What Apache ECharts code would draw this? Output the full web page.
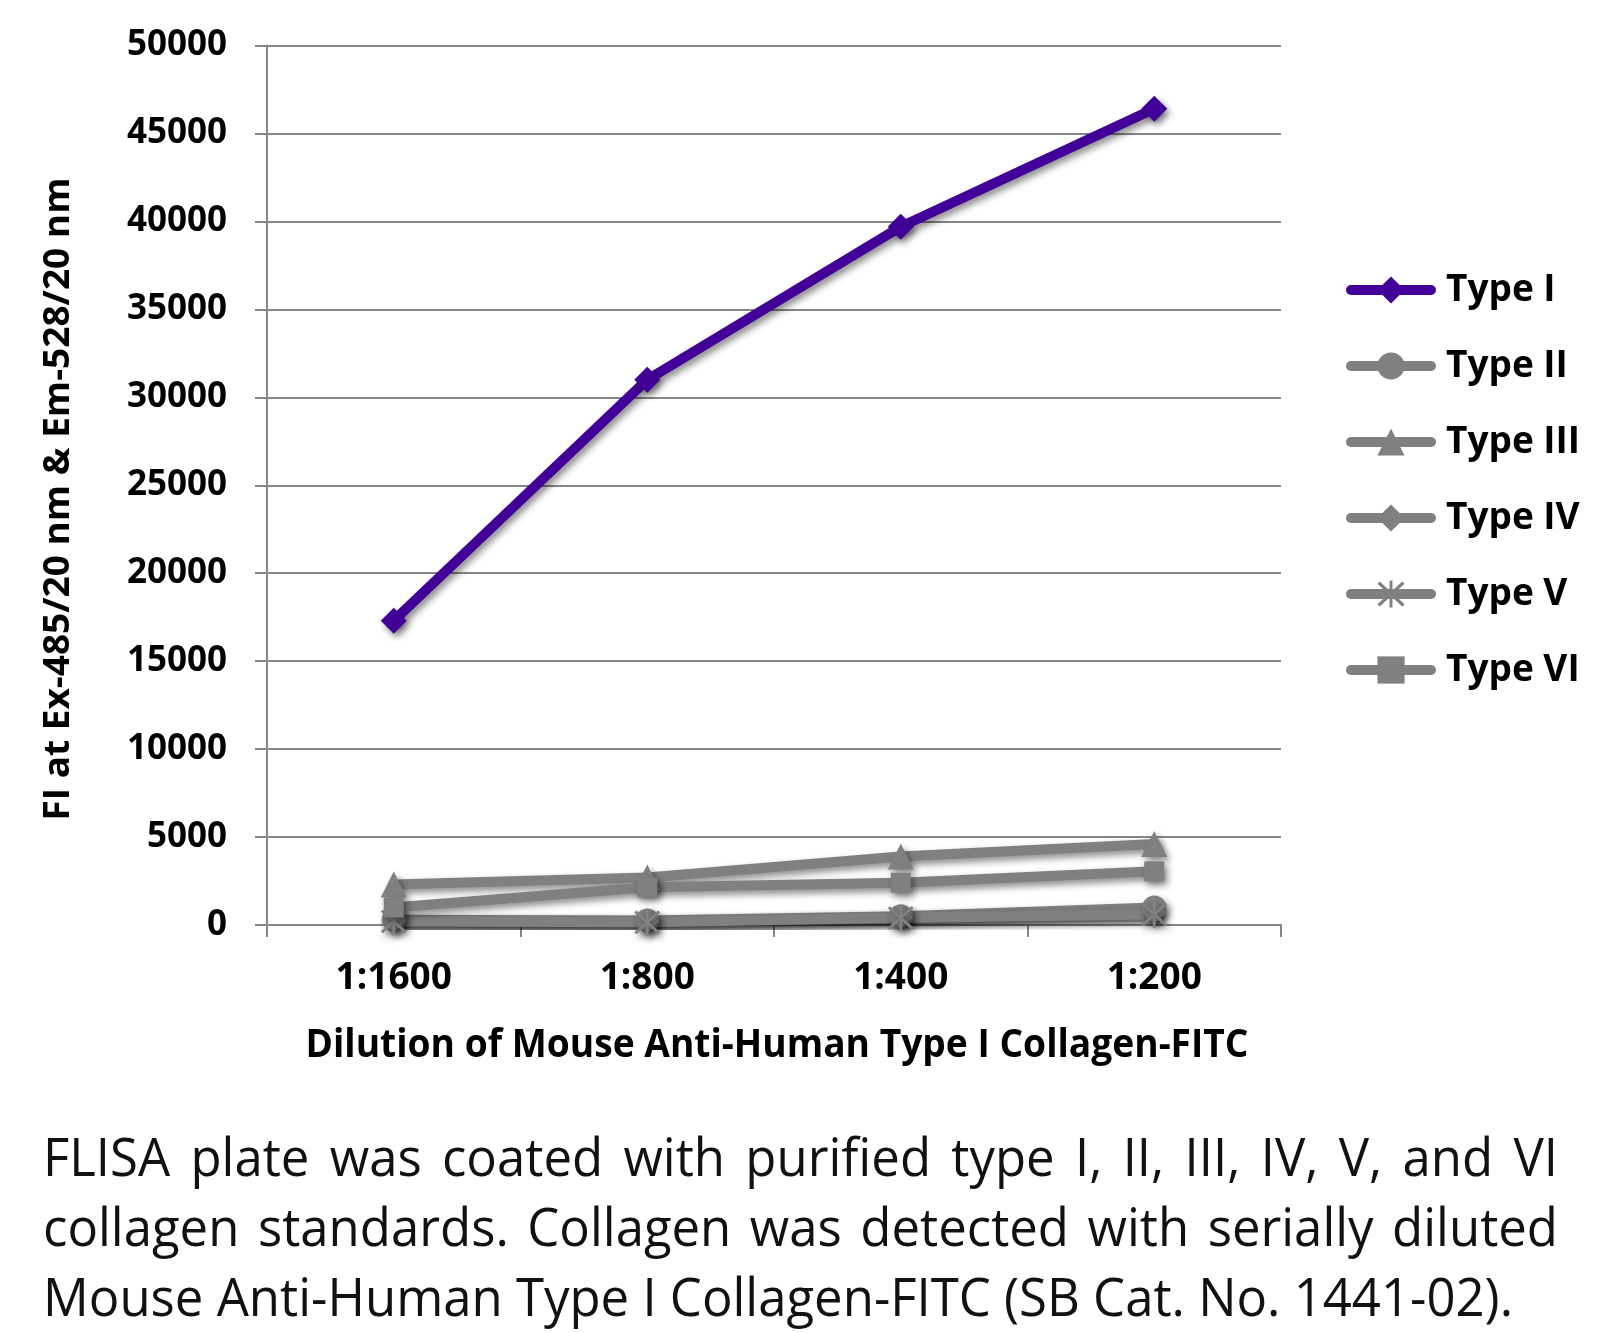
<!DOCTYPE html>
<html>
<head>
<meta charset="utf-8">
<script src="https://cdn.jsdelivr.net/npm/echarts@6/dist/echarts.min.js"></script>
<style>
html,body{margin:0;padding:0;background:#fff;}
#chart{width:1620px;height:1333px;}
</style>
</head>
<body>
<div id="chart"></div>
<script>
const categories = ['1:1600', '1:800', '1:400', '1:200'];
const typeI = [17300, 31000, 39700, 46400];
const typeII = [300, 250, 500, 1000];
const typeIII = [2300, 2700, 3900, 4600];
const typeIV = [250, 200, 450, 700];
const typeV = [200, 150, 400, 600];
const typeVI = [1000, 2150, 2400, 3050];
const seriesNames = ['Type I', 'Type II', 'Type III', 'Type IV', 'Type V', 'Type VI'];
const yTicks = {min: 0, max: 50000, interval: 5000};
const xTitle = 'Dilution of Mouse Anti-Human Type I Collagen-FITC';
const yTitle = 'FI at Ex-485/20 nm & Em-528/20 nm';
const captionLines = [
  'FLISA plate was coated with purified type I, II, III, IV, V, and VI',
  'collagen standards.  Collagen was detected with serially diluted',
  'Mouse Anti-Human Type I Collagen-FITC (SB Cat. No. 1441-02).'
];

const PURPLE = '#420099';
const GRAY = '#808080';
const STAR = 'path://M9,0H11V20H9Z M0.6,2.4 L2.2,0.9 L19.4,17.6 L17.8,19.1 Z M17.8,0.9 L19.4,2.4 L2.2,19.1 L0.6,17.6 Z';
const FONT = '"Open Sans", sans-serif';

function mkSeries(name, data, color, symbol, size) {
  return {
    name: name, type: 'line', data: data,
    symbol: symbol, symbolSize: size,
    lineStyle: {color: color, width: 10, cap: 'round', join: 'round',
      shadowColor: 'rgba(0,0,0,0.45)', shadowBlur: 7, shadowOffsetX: 3, shadowOffsetY: 4},
    itemStyle: {color: color, borderWidth: 0,
      shadowColor: 'rgba(0,0,0,0.45)', shadowBlur: 7, shadowOffsetX: 3, shadowOffsetY: 4},
    emphasis: {disabled: true},
    animation: false
  };
}

const mctx = document.createElement('canvas').getContext('2d');
function measure(text, size, weight) {
  mctx.font = (weight || 'normal') + ' ' + size + 'px ' + FONT;
  return mctx.measureText(text).width;
}

const graphics = [];

// axis titles (condensed to match the original typeface width)
const xtSize = 40, xtWidth = 943;
const xtScale = xtWidth / measure(xTitle, xtSize, 'bold');
graphics.push({type: 'text', x: 777, y: 1046, scaleX: xtScale,
  style: {text: xTitle, x: 0, y: 0, align: 'center', verticalAlign: 'middle',
    fontSize: xtSize, fontWeight: 'bold', fontFamily: FONT, fill: '#000'}});

const ytSize = 36, ytLen = 643;
const ytScale = ytLen / measure(yTitle, ytSize, 'bold');
graphics.push({type: 'text', x: 59, y: 499, rotation: Math.PI / 2, scaleX: ytScale,
  style: {text: yTitle, x: 0, y: 0, align: 'center', verticalAlign: 'middle',
    fontSize: ytSize, fontWeight: 'bold', fontFamily: FONT, fill: '#000'}});

// caption layout (justified lines)
const capFontSize = 53;
const capLeft = 43, capRight = 1558, lastLineWidth = 1470;
const sx = lastLineWidth / measure(captionLines[2], capFontSize);
const capTops = [1134, 1204, 1274];
captionLines.forEach(function (line, i) {
  if (i < 2) {
    const words = line.split(/ +/);
    const widths = words.map(function (w) { return measure(w, capFontSize) * sx; });
    const sum = widths.reduce(function (a, b) { return a + b; }, 0);
    const gap = (capRight - capLeft - sum) / (words.length - 1);
    let x = capLeft;
    words.forEach(function (w, j) {
      graphics.push({type: 'text', x: x, y: capTops[i], scaleX: sx,
        style: {text: w, x: 0, y: 0, fontSize: capFontSize, fontFamily: FONT,
          fill: '#111', verticalAlign: 'top'}});
      x += widths[j] + gap;
    });
  } else {
    graphics.push({type: 'text', x: capLeft, y: capTops[i], scaleX: sx,
      style: {text: line, x: 0, y: 0, fontSize: capFontSize, fontFamily: FONT,
        fill: '#111', verticalAlign: 'top'}});
  }
});

const chart = echarts.init(document.getElementById('chart'), null, {renderer: 'canvas'});
chart.setOption({
  backgroundColor: '#fff',
  animation: false,
  textStyle: {fontFamily: FONT},
  grid: {left: 267, right: 339, top: 45.5, bottom: 408, containLabel: false},
  legend: {
    orient: 'vertical', left: 1346, top: 270, padding: 0,
    data: seriesNames,
    itemWidth: 80, itemHeight: 34, itemGap: 36,
    lineStyle: {width: 10, cap: 'round'},
    textStyle: {fontSize: 37, fontWeight: 'bold', color: '#000', lineHeight: 40, fontFamily: FONT,
      padding: [0, 0, 0, 10]},
    selectedMode: false
  },
  xAxis: {
    type: 'category', data: categories, boundaryGap: true,
    axisLine: {show: true, lineStyle: {color: '#868686', width: 2}},
    axisTick: {show: true, length: 12, lineStyle: {color: '#868686', width: 2}},
    axisLabel: {fontSize: 37, fontWeight: 'bold', color: '#000', margin: 35}
  },
  yAxis: {
    type: 'value', min: yTicks.min, max: yTicks.max, interval: yTicks.interval,
    axisLine: {show: true, lineStyle: {color: '#868686', width: 2}},
    axisTick: {show: true, length: 12, lineStyle: {color: '#868686', width: 2}},
    splitLine: {show: true, lineStyle: {color: '#868686', width: 2}},
    axisLabel: {fontSize: 35, fontWeight: 'bold', color: '#000', margin: 40,
      formatter: function (v) { return String(v); }}
  },
  series: [
    mkSeries('Type I', typeI, PURPLE, 'diamond', 26),
    mkSeries('Type II', typeII, GRAY, 'circle', 24),
    mkSeries('Type III', typeIII, GRAY, 'triangle', 26),
    mkSeries('Type IV', typeIV, GRAY, 'diamond', 24),
    mkSeries('Type V', typeV, GRAY, STAR, 26),
    mkSeries('Type VI', typeVI, GRAY, 'rect', 20)
  ],
  graphic: graphics
});
</script>
</body>
</html>
